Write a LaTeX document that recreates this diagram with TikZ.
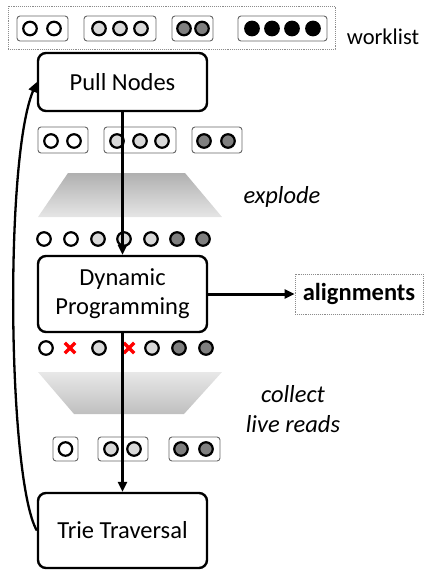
\documentclass[tikz,border=0pt]{standalone}
\usepackage{fontspec}
\setmainfont{Carlito}
\usetikzlibrary{arrows.meta}
\definecolor{lg}{HTML}{D9D9D9}
\definecolor{dg}{HTML}{7F7F7F}
\tikzset{
  stage/.style={draw=black, line width=2.4pt, rounded corners=8pt, fill=white, align=center, font=\fontsize{24.5}{29}\selectfont},
  grp/.style={draw=black!60, line width=0.9pt, rounded corners=3pt, fill=white},
  dot/.style={circle, draw=black, line width=2.2pt, minimum size=13.5pt, inner sep=0pt},
  flow/.style={line width=3pt, -{Triangle[length=10pt,width=9pt]}},
  dotbox/.style={draw=black!45, densely dotted, line width=0.9pt},
  lab/.style={font=\fontsize{24.5}{29.5}\selectfont\itshape, align=center},
  xmark/.style={red, line width=3.4pt},
}
\begin{document}
\begin{tikzpicture}[x=1pt,y=-1pt]
\useasboundingbox (0,0) rectangle (432,570);
% worklist
\node[dotbox, minimum width=327pt, minimum height=43pt, inner sep=0pt] (wl) at (171.5,27.5) {};
\node[font=\fontsize{22.5}{27}\selectfont] (wlt) at (383,37) {worklist};
\node[grp, minimum width=51pt, minimum height=25pt] (w1) at (42.5,28.5) {};
\node[grp, minimum width=72pt, minimum height=25pt] (w2) at (120,28.5) {};
\node[grp, minimum width=41pt, minimum height=25pt] (w3) at (192.5,28.5) {};
\node[grp, minimum width=89pt, minimum height=25pt] (w4) at (282.5,28.5) {};
\foreach \x/\c [count=\i] in {30/white,54/white,99/lg,120/lg,141/lg,184/dg,202/dg,252/black,272/black,292/black,313/black}
  \node[dot, fill=\c] (wd\i) at (\x,28.5) {};
% pull nodes
\node[stage, minimum width=169pt, minimum height=58pt] (pull) at (122.5,82) {Pull Nodes};
% row 1 groups
\node[grp, minimum width=50pt, minimum height=26pt] (g1) at (63,140) {};
\node[grp, minimum width=72pt, minimum height=26pt] (g2) at (140,140) {};
\node[grp, minimum width=50pt, minimum height=26pt] (g3) at (217,140) {};
\foreach \x/\c [count=\i] in {51/white,74/white,117/lg,140/lg,162/lg,204/dg,228/dg}
  \node[dot, fill=\c] (ra\i) at (\x,141) {};
% trapezoid explode
\shade[top color=black!31, bottom color=black!10] (68,173) -- (185,173) -- (222,217) -- (38,217) -- cycle;
\node[lab] (expl) at (282,197) {explode};
% row 2
\foreach \x/\c [count=\i] in {44/white,71/white,98/lg,124/lg,151/lg,177/dg,203/dg}
  \node[dot, fill=\c] (rb\i) at (\x,239) {};
% DP
\node[stage, minimum width=169pt, minimum height=76pt] (dp) at (122.5,294) {Dynamic\\Programming};
\node[dotbox, minimum width=128pt, minimum height=40pt, inner sep=0pt, font=\fontsize{24.5}{29}\selectfont\bfseries] (al) at (359,294) {alignments};
% row 3
\foreach \x/\c [count=\i] in {46/white,99/lg,152/lg,179/dg,206/dg}
  \node[dot, fill=\c] (rc\i) at (\x,348) {};
\foreach \x [count=\i] in {70,129} {
  \coordinate (xm\i) at (\x,348);
  \draw[xmark] ([shift={(-5.2,-5.2)}]xm\i) -- ([shift={(5.2,5.2)}]xm\i);
  \draw[xmark] ([shift={(-5.2,5.2)}]xm\i) -- ([shift={(5.2,-5.2)}]xm\i);
}
% trapezoid collect
\shade[top color=black!9, bottom color=black!25] (38,372) -- (222,372) -- (184,414) -- (74,414) -- cycle;
\node[lab] (coll) at (293,409) {collect\\live reads};
% row 4 groups
\node[grp, minimum width=25pt, minimum height=24pt] (h1) at (65.5,449) {};
\node[grp, minimum width=50pt, minimum height=24pt] (h2) at (123,449) {};
\node[grp, minimum width=51pt, minimum height=24pt] (h3) at (194.5,449) {};
\foreach \x/\c [count=\i] in {65.5/white,111/lg,134/lg,181/dg,206/dg}
  \node[dot, fill=\c] (rd\i) at (\x,449) {};
% trie
\node[stage, minimum width=169pt, minimum height=75pt] (trie) at (122.5,530.5) {Trie Traversal};
% arrows
\draw[flow] (pull.south) -- (dp.north);
\draw[flow] (dp.south) -- (trie.north);
\draw[flow] (dp.east) -- (al.west);
\draw[flow, line width=2.3pt] (trie.west) .. controls (8,480) and (4,160) .. (pull.west);
\end{tikzpicture}
\end{document}
